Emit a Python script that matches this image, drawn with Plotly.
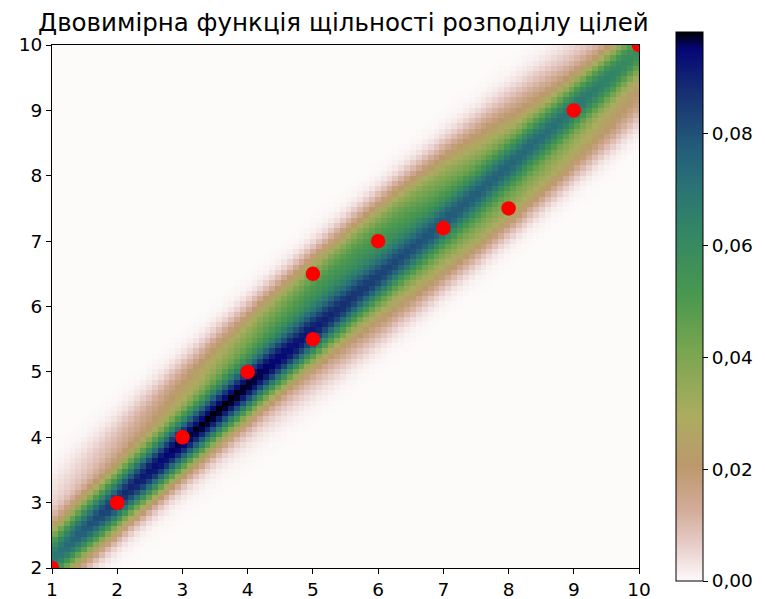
import numpy as np
import plotly.graph_objects as go

# ---- data ----
target_x = [1, 2, 3, 4, 5, 5, 6, 7, 8, 9, 10]
target_y = [2, 3, 4, 5, 5.5, 6.5, 7, 7.2, 7.5, 9, 10]
x_ticks = list(range(1, 11))
y_ticks = list(range(2, 11))
cbar_ticks = [0.0, 0.02, 0.04, 0.06, 0.08]
cbar_labels = ["0,00", "0,02", "0,04", "0,06", "0,08"]
title_text = "Двовимірна функція щільності розподілу цілей"

# ---- gaussian KDE (Scott's rule) evaluated on a 100x100 grid ----
pts = np.vstack([target_x, target_y]).astype(float)
n, d = pts.shape[1], pts.shape[0]
cov = np.cov(pts)
factor = n ** (-1.0 / (d + 4))
kcov = cov * factor ** 2
inv = np.linalg.inv(kcov)
norm = 1.0 / (2 * np.pi * np.sqrt(np.linalg.det(kcov)))
xmin, xmax, ymin, ymax = 1, 10, 2, 10
gx = np.linspace(xmin, xmax, 100)
gy = np.linspace(ymin, ymax, 100)
GX, GY = np.meshgrid(gx, gy)
dx = GX[..., None] - pts[0]
dy = GY[..., None] - pts[1]
q = inv[0, 0] * dx * dx + 2 * inv[0, 1] * dx * dy + inv[1, 1] * dy * dy
Z = norm * np.exp(-0.5 * q).sum(axis=-1) / n

# cell edges like imshow extent
x_edges = np.linspace(xmin, xmax, 101)
y_edges = np.linspace(ymin, ymax, 101)

# gist_earth_r approximation
gist_earth = [
    (0.00, (0, 0, 0)),
    (0.03, (5, 5, 118)),
    (0.11, (22, 48, 114)),
    (0.21, (35, 92, 122)),
    (0.28, (42, 114, 118)),
    (0.37, (52, 135, 100)),
    (0.48, (74, 152, 78)),
    (0.58, (120, 165, 80)),
    (0.70, (172, 172, 96)),
    (0.79, (188, 152, 108)),
    (0.87, (210, 172, 152)),
    (0.93, (230, 202, 198)),
    (1.00, (253, 250, 250)),
]
colorscale = [[round(1 - t, 4), "rgb(%d,%d,%d)" % c] for t, c in reversed(gist_earth)]

fig = go.Figure()
fig.add_trace(go.Heatmap(
    z=Z, x=x_edges, y=y_edges, zsmooth=False,
    colorscale=colorscale, zmin=0, zmax=float(Z.max()),
    colorbar=dict(
        x=1.063, xanchor="left", xpad=0, y=0.5, yanchor="middle", ypad=0,
        len=549, lenmode="pixels", thickness=27,
        outlinewidth=1, outlinecolor="black",
        tickvals=cbar_ticks, ticktext=cbar_labels,
        ticks="outside", ticklen=5, tickcolor="black",
        tickfont=dict(size=18.5, color="black"),
    ),
    hoverinfo="skip",
))
fig.add_trace(go.Scatter(
    x=target_x, y=target_y, mode="markers",
    marker=dict(color="red", size=14.5),
    showlegend=False,
))

axis_common = dict(
    showgrid=False, zeroline=False, showline=True, linecolor="black",
    linewidth=1, mirror=True, ticks="outside", ticklen=5, tickcolor="black",
    tickfont=dict(size=18.5, color="black"),
)
fig.update_xaxes(range=[xmin, xmax], tickvals=x_ticks, **axis_common)
fig.update_yaxes(range=[ymin, ymax], tickvals=y_ticks, **axis_common)

# page body has an 8px margin, so the figure is sized to fit the window
fig.update_layout(
    width=757, height=591,
    margin=dict(l=44, r=126, t=37, b=31, autoexpand=False),
    paper_bgcolor="white", plot_bgcolor="white",
    font=dict(family="DejaVu Sans", color="black"),
    title=dict(text=title_text, x=0.443, xanchor="center", y=0.976, yanchor="middle",
               font=dict(size=24.5, color="black")),
    showlegend=False,
)

fig.write_html("out.html")
